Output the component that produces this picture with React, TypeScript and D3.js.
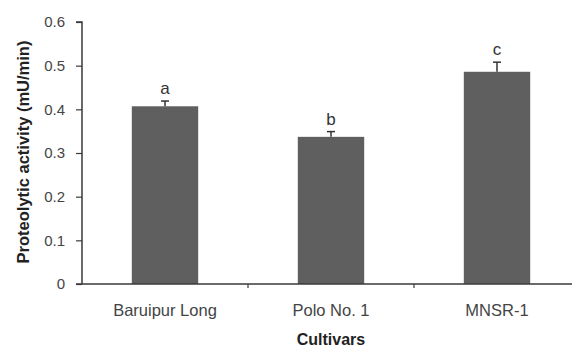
import { useEffect, useRef } from 'react';
import * as d3 from 'd3';

const cultivars = ['Baruipur Long', 'Polo No. 1', 'MNSR-1'];
const activity = [0.407, 0.337, 0.486];
const errors = [0.012, 0.012, 0.022];
const letters = ['a', 'b', 'c'];
const yTicks = [0, 0.1, 0.2, 0.3, 0.4, 0.5, 0.6];

const App = () => {
  const svgRef = useRef<SVGSVGElement>(null);

  useEffect(() => {
    const svg = d3.select(svgRef.current);
    svg.selectAll('*').remove();

    const width = 572;
    const height = 347;
    const left = 82;
    const top = 22;
    const bottom = 284;

    svg.attr('width', width).attr('height', height);

    const x = d3.scaleBand().domain(cultivars).range([left, 580]).paddingInner(0.6).paddingOuter(0.3);
    const xb = d3.scaleBand().domain(cultivars).range([left, 580]);
    const y = d3.scaleLinear().domain([0, 0.6]).range([bottom, top]);

    const axisColor = '#3a3a3a';
    const font = 'Liberation Sans, Arial, sans-serif';

    // bars
    svg.append('g')
      .selectAll('rect')
      .data(cultivars)
      .enter().append('rect')
      .attr('x', d => x(d)!)
      .attr('y', (d, i) => y(activity[i]))
      .attr('width', x.bandwidth())
      .attr('height', (d, i) => y(0) - y(activity[i]))
      .attr('fill', '#5f5f5f');

    // error bars
    const eb = svg.append('g').attr('stroke', '#333').attr('stroke-width', 1.5);
    cultivars.forEach((c, i) => {
      const cx = x(c)! + x.bandwidth() / 2;
      eb.append('line').attr('x1', cx).attr('x2', cx).attr('y1', y(activity[i])).attr('y2', y(activity[i] + errors[i]));
      eb.append('line').attr('x1', cx - 4).attr('x2', cx + 4).attr('y1', y(activity[i] + errors[i])).attr('y2', y(activity[i] + errors[i]));
    });

    // letters
    svg.append('g')
      .selectAll('text')
      .data(cultivars)
      .enter().append('text')
      .attr('x', d => x(d)! + x.bandwidth() / 2)
      .attr('y', (d, i) => y(activity[i] + errors[i]) - 7)
      .attr('text-anchor', 'middle')
      .style('font-family', font)
      .style('font-size', '17px')
      .style('fill', '#333')
      .text((d, i) => letters[i]);

    // y axis
    const yAxis = svg.append('g')
      .attr('transform', `translate(${left},0)`)
      .call(d3.axisLeft(y).tickValues(yTicks).tickSize(6).tickPadding(11)
        .tickFormat(d => (d === 0 ? '0' : d3.format('.1f')(d as number))));
    yAxis.select('.domain').attr('stroke', axisColor).attr('stroke-width', 1.5).attr('d', `M-6,${top}H0V${bottom}`);
    yAxis.selectAll('.tick line').attr('stroke', axisColor).attr('stroke-width', 1.2);
    yAxis.selectAll('.tick text')
      .style('font-family', font).style('font-size', '15px').style('fill', '#444');

    // x axis
    const xg = svg.append('g');
    xg.append('line').attr('x1', left - 6).attr('x2', width).attr('y1', bottom).attr('y2', bottom)
      .attr('stroke', axisColor).attr('stroke-width', 1.5);
    xg.selectAll('.xtick')
      .data(cultivars.slice(1))
      .enter().append('line')
      .attr('x1', d => xb(d)!).attr('x2', d => xb(d)!)
      .attr('y1', bottom).attr('y2', bottom + 4)
      .attr('stroke', axisColor).attr('stroke-width', 1.2);
    xg.selectAll('text')
      .data(cultivars)
      .enter().append('text')
      .attr('x', d => x(d)! + x.bandwidth() / 2)
      .attr('y', 316)
      .attr('text-anchor', 'middle')
      .style('font-family', font).style('font-size', '16.5px').style('fill', '#444')
      .text(d => d);

    // titles
    svg.append('text')
      .attr('x', x('Polo No. 1')! + x.bandwidth() / 2)
      .attr('y', 345)
      .attr('text-anchor', 'middle')
      .style('font-family', font).style('font-size', '16px').style('font-weight', 'bold').style('fill', '#222')
      .text('Cultivars');

    svg.append('text')
      .attr('transform', `translate(29,152) rotate(-90)`)
      .attr('text-anchor', 'middle')
      .style('font-family', font).style('font-size', '16.5px').style('font-weight', 'bold').style('fill', '#222')
      .text('Proteolytic activity (mU/min)');
  }, []);

  return (
    <div style={{ position: 'absolute', left: 0, top: 0 }}>
      <svg ref={svgRef} style={{ display: 'block' }}></svg>
    </div>
  );
};

export default App;
